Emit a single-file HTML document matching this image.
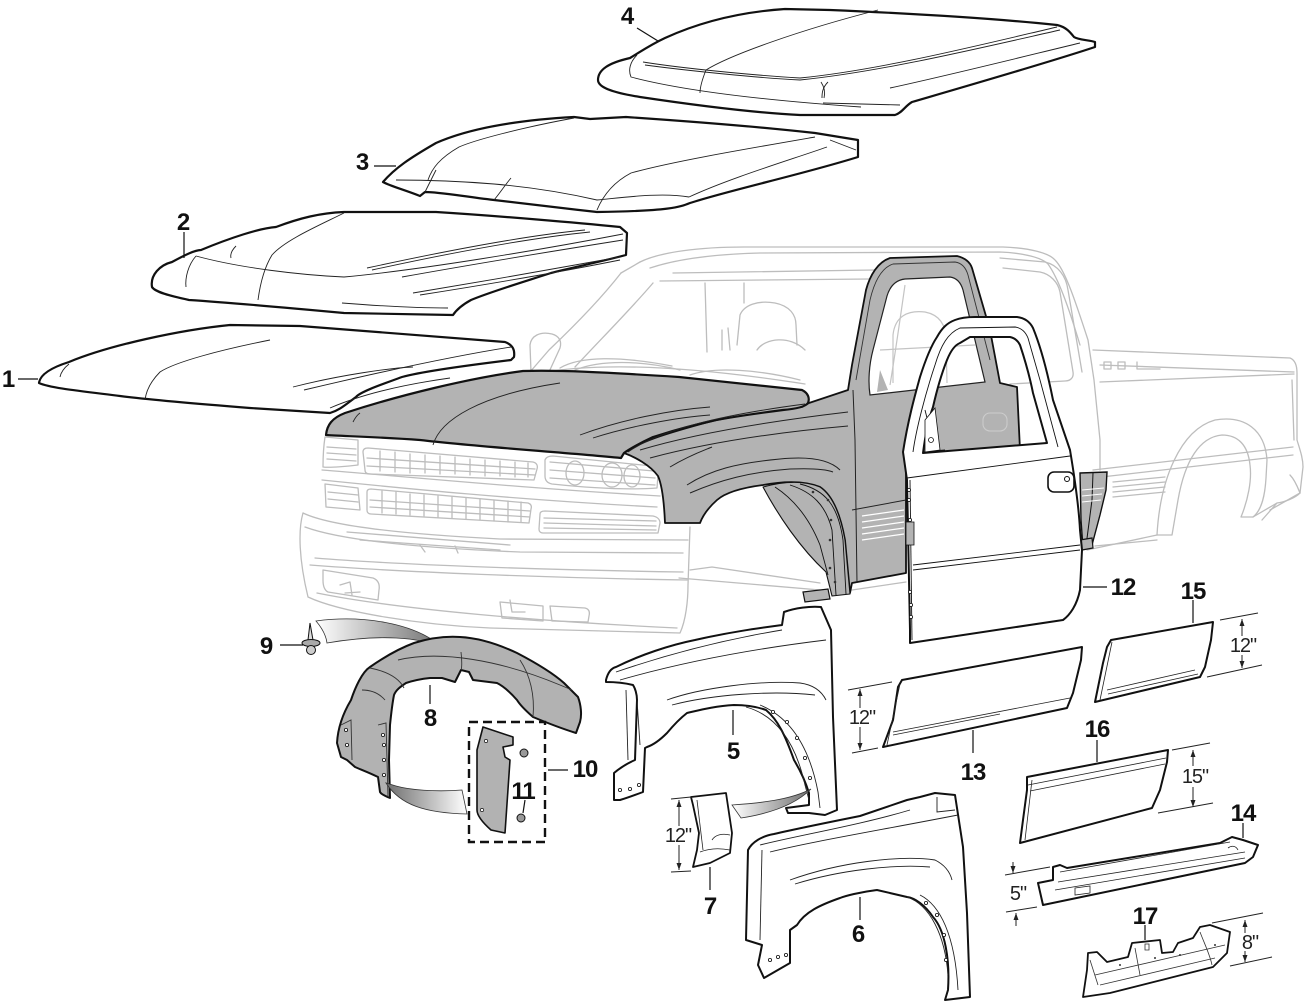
<!DOCTYPE html>
<html><head><meta charset="utf-8"><style>
html,body{margin:0;padding:0;background:#fff;}
svg{display:block;}
.lbl{font-family:"Liberation Sans",Arial,sans-serif;font-weight:bold;font-size:24px;fill:#111;text-anchor:middle;letter-spacing:-1px;}
.dim{font-family:"Liberation Sans",Arial,sans-serif;font-size:20px;fill:#222;text-anchor:middle;letter-spacing:-1px;}
</style></head><body>
<svg width="1307" height="1002" viewBox="0 0 1307 1002" xmlns="http://www.w3.org/2000/svg">
<defs>
<linearGradient id="gR" x1="0" y1="0" x2="1" y2="0"><stop offset="0" stop-color="#fff"/><stop offset="1" stop-color="#6e6e6e"/></linearGradient>
<linearGradient id="gL" x1="0" y1="0" x2="1" y2="0"><stop offset="0" stop-color="#6e6e6e"/><stop offset="1" stop-color="#fff"/></linearGradient>
<marker id="ar" markerWidth="8" markerHeight="8" refX="7" refY="4" orient="auto" markerUnits="userSpaceOnUse"><path d="M0,1.5 L7,4 L0,6.5 Z" fill="#222"/></marker>
</defs>
<rect width="1307" height="1002" fill="#fff"/>

<!-- ================= TRUCK (light gray) ================= -->
<g fill="none" stroke="#bdbdbd" stroke-width="1.3" stroke-linejoin="round" stroke-linecap="round">
 <path d="M640,262 C660,252 700,247 744,247 L1003,247 C1030,248 1049,253 1055,260 C1065,270 1075,300 1088,340 L1094,380 L1100,440 L1100,470"/>
 <path d="M650,268 C680,258 720,254 760,253 L1000,252 C1025,253 1042,258 1048,264 C1058,278 1068,305 1080,345"/>
 <path d="M621,273 C600,300 570,330 549,350 L530,372"/>
 <path d="M640,262 L621,273"/>
 <path d="M653,283 C630,310 600,340 575,367"/>
 <path d="M673,273 L874,270"/>
 <path d="M660,281 L870,279"/>
 <path d="M531,372 L530,345 C531,336 540,331 552,334 C559,336 562,341 560,348 L549,372 Z"/>
 <path d="M540,373 C600,362 690,366 805,384"/>
 <path d="M560,368 C580,356 620,356 672,366"/>
 <path d="M575,370 C600,360 640,360 680,370"/>
 <path d="M690,375 C715,366 760,370 800,380"/>
 <path d="M705,283 L707,352"/>
 <path d="M744,283 L744,303"/>
 <path d="M737,345 L740,315 C744,305 758,300 775,303 C790,306 796,315 796,325 L797,345"/>
 <path d="M757,350 C765,338 790,335 805,350"/>
 <path d="M722,330 L722,350 M728,328 L730,350"/>
 <path d="M893,383 L893,335 C895,316 908,310 925,312 C940,315 946,325 946,340 L947,383"/>
 <path d="M888,345 L960,340"/>
 <path d="M878,310 L880,390"/>
 <path d="M1003,268 L1040,272 C1050,274 1058,282 1060,292 L1073,372 C1074,378 1070,381 1065,381 L1010,384"/>
 <path d="M1000,258 L1045,262 C1058,265 1066,276 1068,290 L1082,372"/>
 <path d="M1093,350 L1290,358 C1295,360 1297,365 1297,373 L1297,440 C1300,450 1303,458 1303,467 L1300,493 C1295,498 1285,502 1277,503 L1262,520"/>
 <path d="M1100,365 L1294,372"/>
 <path d="M1100,382 L1294,374"/>
 <path d="M1104,362 L1104,369 L1111,369 L1111,362 Z M1118,362 L1118,369 L1125,369 L1125,362 Z M1137,362 L1137,369 L1160,369"/>
 <path d="M1292,380 L1294,440"/>
 <path d="M1093,470 L1293,447"/>
 <path d="M1093,478 L1293,455"/>
 <path d="M1113,482 L1165,477 M1113,487 L1165,482 M1113,492 L1165,487 M1113,497 L1165,492"/>
 <path d="M1157,535 C1160,480 1180,430 1215,420 C1245,415 1265,430 1267,460 L1266,478 C1265,495 1262,510 1253,517 L1241,517 C1248,500 1252,480 1250,465 C1248,445 1238,435 1222,435 C1200,437 1185,460 1178,500 L1172,535 Z"/>
 <path d="M1087,550 L1157,535"/>
 <path d="M1095,546 L1157,540"/>
 <path d="M1253,517 L1277,503 M1270,510 L1300,493"/>
 <path d="M1290,475 C1295,480 1298,488 1300,493"/>
 <path d="M325,437 C323,450 323,460 323,467 C330,468 350,466 358,465 L358,440 Z"/>
 <path d="M327,447 L356,449 M327,453 L356,455 M327,459 L356,461"/>
 <path d="M363,452 C363,449 365,448 368,448 L533,462 C537,463 538,466 537,469 L534,480 L370,474 C366,474 365,472 365,470 Z"/>
 <path d="M367,458 L535,469 M367,466 L535,475"/>
 <path d="M380,451 L380,471 M395,452 L395,472 M410,454 L410,473 M425,455 L425,473 M440,456 L440,474 M455,457 L455,474 M470,459 L470,475 M485,460 L485,476 M500,461 L500,476 M515,462 L515,477 M528,463 L528,477"/>
 <path d="M545,460 C546,457 549,456 553,456 L652,466 C657,467 659,470 658,475 L657,488 C630,490 590,488 552,484 C547,483 545,480 545,476 Z"/>
 <path d="M550,462 L654,471 M550,470 L655,478 M550,478 L655,485"/>
 <ellipse cx="575" cy="473" rx="9" ry="12"/>
 <ellipse cx="612" cy="475" rx="10" ry="12"/>
 <ellipse cx="632" cy="476" rx="8" ry="11"/>
 <path d="M322,470 C400,476 520,488 660,496"/>
 <path d="M322,480 C400,488 520,500 657,507"/>
 <path d="M325,484 L358,488 L360,510 L326,507 Z"/>
 <path d="M328,492 L358,495 M328,499 L358,502"/>
 <path d="M367,492 C367,490 368,489 371,489 L528,503 C531,504 532,506 531,509 L529,523 L371,514 C368,514 367,512 367,510 Z"/>
 <path d="M370,500 L530,511 M370,507 L530,517"/>
 <path d="M382,491 L382,513 M396,492 L396,514 M410,494 L410,515 M424,495 L424,516 M438,496 L438,517 M452,497 L452,518 M466,498 L466,519 M480,499 L480,520 M494,500 L494,521 M508,501 L508,522 M521,502 L521,522"/>
 <path d="M540,514 C540,512 542,511 545,511 L653,516 C658,517 660,520 660,523 L658,533 L543,533 C540,533 539,531 539,529 Z"/>
 <path d="M544,518 L656,521 M544,523 L656,526 M544,528 L656,530"/>
 <path d="M303,513 C298,530 299,560 308,597 C340,612 420,625 490,628 L680,633 C686,620 688,600 688,585 L690,527"/>
 <path d="M303,513 C330,526 400,534 500,539 L688,540"/>
 <path d="M305,527 C340,540 420,548 520,552 L683,553"/>
 <path d="M347,532 L510,545 M360,540 L500,550 M420,545 L425,552 M455,546 L458,553"/>
 <path d="M315,558 C400,565 550,570 683,572"/>
 <path d="M310,565 C400,572 550,578 687,580"/>
 <path d="M317,593 C400,610 550,622 677,628"/>
 <path d="M323,570 L373,578 C378,580 380,584 379,590 L378,600 L328,592 C324,590 323,585 323,580 Z"/>
 <path d="M340,585 L350,582 L352,595 M345,593 L360,592"/>
 <path d="M500,602 L543,606 L543,621 L502,618 Z"/>
 <path d="M550,606 L585,608 C589,609 590,612 589,616 L588,622 L552,621 Z"/>
 <path d="M510,600 L512,612 L525,612"/>
 <path d="M690,570 L712,567 L820,583"/>
 <path d="M679,578 L820,590"/>
 <path d="M852,590 L906,582"/>
</g>

<!-- ================= GRAY BODY on truck ================= -->
<path d="M624,453 C640,442 660,435 712,421 C740,415 780,410 802,407 L809,403 L848,390 L852,365 L866,290 C870,275 878,262 890,258 L957,256 C965,258 970,262 972,268 L990,330 L1000,383 L1017,387 L1020,450 L906,460 L906,573 L852,583 L850,593 L845,540 C840,512 832,495 820,487 C805,481 785,481 763,485 C740,488 725,493 717,500 C708,508 703,515 700,523 L665,523 C664,500 662,485 658,476 C650,465 635,457 624,453 Z" fill="#b3b3b3" stroke="#111" stroke-width="1.8" stroke-linejoin="round"/>
<!-- wheel well liner -->
<path d="M763,487 C778,515 800,548 826,572 L832,596 L850,594 L845,540 C840,512 832,495 820,487 C805,481 785,481 763,487 Z" fill="#b3b3b3" stroke="#111" stroke-width="1.1" stroke-linejoin="round"/>
<g fill="none" stroke="#111" stroke-width="0.9">
 <path d="M790,485 C812,492 826,505 832,530 L836,595"/>
 <path d="M800,484 C825,490 838,505 843,540 L846,594"/>
 <path d="M775,487 C795,500 810,520 820,545 L828,575"/>
</g>
<g fill="#333"><circle cx="813" cy="492" r="1.3"/><circle cx="828" cy="500" r="1.3"/><circle cx="831" cy="520" r="1.3"/><circle cx="830" cy="540" r="1.3"/><circle cx="830" cy="568" r="1.3"/><circle cx="835" cy="582" r="1.3"/></g>
<path d="M803,592 L828,589 L830,599 L805,602 Z" fill="#b3b3b3" stroke="#111" stroke-width="1.2"/>
<!-- cab opening -->
<path d="M870,395 C868,382 869,365 873,350 L887,296 C890,286 896,280 905,279 L950,277 C957,278 961,283 963,290 L985,382 Z" fill="#fff" stroke="#222" stroke-width="1.2"/>
<g fill="none" stroke="#c4c4c4" stroke-width="1.2">
 <path d="M893,383 L893,335 C895,316 908,310 925,312 C940,315 946,325 946,340 L947,383"/>
 <path d="M880,350 L975,345"/>
 <path d="M905,285 C900,320 895,355 890,385"/>
</g>
<path d="M880,370 L877,392 L888,390 Z" fill="#b3b3b3"/>
<path d="M856,380 L870,300 C874,283 881,268 893,264 L955,262 C962,263 966,268 968,275 L990,360" fill="none" stroke="#333" stroke-width="0.9"/>
<!-- fender lines on truck -->
<g fill="none" stroke="#222" stroke-width="1">
 <path d="M640,450 C700,432 780,420 848,412"/>
 <path d="M650,458 C710,442 780,432 848,426"/>
 <path d="M687,485 C710,470 737,463 780,459 C810,456 830,460 840,470"/>
 <path d="M690,493 C720,480 750,472 790,469 C815,468 828,470 833,472"/>
 <path d="M670,467 C690,455 705,450 712,447"/>
 <path d="M853,390 L855,440 L857,583"/>
 <path d="M852,510 L906,500"/>
</g>
<g stroke="#fff" stroke-width="1.3">
 <path d="M862,516 L904,510 M862,522 L904,516 M862,528 L904,522 M862,534 L904,528 M862,540 L904,534"/>
</g>
<!-- B-pillar strip -->
<path d="M1080,473 L1107,472 L1106,490 L1100,515 L1092,545 L1083,548 L1081,520 Z" fill="#b3b3b3" stroke="#111" stroke-width="1.4"/>
<path d="M1093,473 L1092,500 L1086,546" fill="none" stroke="#111" stroke-width="1"/>
<path d="M1082,490 L1104,488 M1082,496 L1102,494 M1082,502 L1101,500" stroke="#fff" stroke-width="1"/>
<path d="M1080,540 L1092,538 L1093,548 L1082,550 Z" fill="#b3b3b3" stroke="#111" stroke-width="1.2"/>

<!-- gray hood on truck -->
<path d="M326,435 C327,425 332,418 345,413 C400,395 470,378 523,371 C560,370 600,372 679,377 L802,390 C808,393 810,398 808,403 C805,407 795,409 783,410 C760,413 730,417 712,421 C680,428 660,435 653,437 C640,443 628,450 624,453 L621,458 C560,452 480,447 420,440 C380,437 340,436 326,435 Z" fill="#b3b3b3" stroke="#111" stroke-width="2.2" stroke-linejoin="round"/>
<g fill="none" stroke="#222" stroke-width="0.9">
 <path d="M353,422 C355,418 357,415 360,413"/>
 <path d="M433,445 C440,420 480,395 560,383"/>
 <path d="M580,435 C620,420 670,410 710,407"/>
 <path d="M593,438 C630,426 680,417 710,415"/>
 <path d="M628,452 C660,430 720,415 805,404"/>
</g>

<!-- DOOR 12 -->
<path fill-rule="evenodd" d="M907,480 L903,452 C908,420 915,395 920,377 C927,355 933,343 937,337 C942,328 947,323 955,320 C960,318 965,317 975,317 L1017,317 C1025,318 1030,322 1033,328 C1040,345 1047,370 1053,400 L1070,450 C1075,480 1079,510 1080,530 L1082,550 L1080,590 C1077,605 1070,615 1063,620 L910,643 L910,630 Z M923,453 C926,430 930,415 933,407 C938,385 943,370 947,360 C951,350 955,345 960,343 L970,337 L1010,337 C1015,338 1018,341 1020,345 C1025,360 1030,378 1033,393 L1047,443 Z" fill="#fff" stroke="#111" stroke-width="2" stroke-linejoin="round"/>
<g fill="none" stroke="#111" stroke-width="0.9">
 <path d="M913,452 C916,430 925,395 935,365 C941,345 948,333 960,328 L1015,327 C1022,328 1026,333 1028,338 L1040,380 L1058,447"/>
 <path d="M907,478 L1070,456"/>
 <path d="M913,565 L1080,545"/>
 <path d="M913,570 L1080,550"/>
 <path d="M910,480 L912,640"/>
 <path d="M925,410 L935,450 M923,452 L945,450"/>
</g>
<path d="M925,420 L935,408 L940,450 L925,452 Z" fill="#fff" stroke="#111" stroke-width="0.8"/>
<circle cx="931" cy="440" r="2.5" fill="none" stroke="#111" stroke-width="0.8"/>
<g fill="none" stroke="#ccc" stroke-width="1.1"><rect x="983" y="413" width="24" height="18" rx="7"/></g>
<rect x="1048" y="472" width="26" height="20" rx="6" fill="#fff" stroke="#111" stroke-width="1.6"/>
<circle cx="1067" cy="479" r="2.5" fill="none" stroke="#111" stroke-width="1"/>
<g fill="#fff" stroke="#111" stroke-width="0.8"><circle cx="909" cy="490" r="1.6"/><circle cx="909" cy="500" r="1.6"/><circle cx="910" cy="520" r="1.6"/><circle cx="910" cy="592" r="1.6"/><circle cx="911" cy="605" r="1.6"/><circle cx="911" cy="617" r="1.6"/></g>
<path d="M906,522 L914,522 L914,545 L906,545 Z" fill="#b3b3b3" stroke="#111" stroke-width="0.8"/>

<!-- ================= HOODS ================= -->
<path d="M598,80 C598,70 608,63 630,58 C640,52 650,45 665,38 C700,22 740,12 785,9 L830,10 C900,13 990,18 1057,25 C1066,27 1070,32 1074,37 C1078,40 1090,40 1095,42 L1095,47 C1050,62 960,88 912,102 C905,106 902,113 895,115 L800,115 C760,113 700,106 640,97 C615,93 598,88 598,80 Z" fill="#fff" stroke="#111" stroke-width="2.2" stroke-linejoin="round"/>
<g fill="none" stroke="#222" stroke-width="0.9">
 <path d="M637,55 C630,62 628,70 631,77 C680,90 760,100 861,107"/>
 <path d="M643,62 C680,68 750,75 800,78 C880,70 980,45 1057,27"/>
 <path d="M645,65 C690,71 760,78 800,80 C880,72 980,48 1060,30"/>
 <path d="M890,88 C950,75 1030,55 1080,43"/>
 <path d="M878,10 C800,30 730,55 706,70 C702,80 700,88 700,93"/>
 <path d="M821,82 C825,88 825,94 824,98"/>
 <path d="M828,82 C822,88 822,94 822,98"/>
 <path d="M823,103 L900,105"/>
</g>
<path d="M383,182 C395,168 410,158 436,143 C470,128 520,120 574,117 L590,119 L626,117 C700,122 770,128 815,133 L858,140 L858,157 C800,175 730,190 690,203 C680,207 670,211 597,212 C560,208 520,203 494,200 C460,196 440,192 425,192 L420,196 C405,190 390,186 383,182 Z" fill="#fff" stroke="#111" stroke-width="2.2" stroke-linejoin="round"/>
<g fill="none" stroke="#222" stroke-width="0.9">
 <path d="M396,180 C430,180 470,182 494,184 C540,188 575,195 597,200 C620,198 660,192 689,197"/>
 <path d="M511,178 C505,185 500,193 494,200"/>
 <path d="M436,170 C432,178 428,186 425,192"/>
 <path d="M574,118 C520,128 475,140 459,147 C440,158 432,168 428,180"/>
 <path d="M815,137 C740,150 670,162 631,173 C612,183 602,198 597,210"/>
 <path d="M689,197 C730,178 790,160 827,147"/>
 <path d="M830,140 L856,150"/>
</g>
<path d="M152,287 C150,275 160,265 172,262 C185,255 195,250 201,250 C230,238 260,228 276,227 C300,218 320,213 344,212 L436,212 C500,216 580,223 620,227 L627,233 L626,255 C600,262 570,268 551,273 C520,283 490,292 471,300 C460,306 455,312 453,315 L344,313 C290,308 220,302 189,300 C170,296 155,292 152,287 Z" fill="#fff" stroke="#111" stroke-width="2.2" stroke-linejoin="round"/>
<g fill="none" stroke="#222" stroke-width="0.9">
 <path d="M196,256 C188,265 185,278 186,287"/>
 <path d="M196,256 C240,268 300,275 344,277 C420,270 540,250 623,234"/>
 <path d="M344,213 C320,225 285,240 272,255 C264,268 260,285 258,300"/>
 <path d="M236,246 C232,250 230,254 231,258"/>
 <path d="M367,268 C450,250 530,235 585,230"/>
 <path d="M372,270 C450,253 530,238 590,232"/>
 <path d="M402,277 C480,263 560,250 623,240"/>
 <path d="M413,293 C480,282 560,268 620,257"/>
 <path d="M420,295 C490,284 560,272 620,260"/>
 <path d="M342,303 C380,306 420,308 448,308"/>
</g>
<path d="M39,383 C40,375 50,368 69,362 C110,345 180,330 230,325 L300,326 C380,332 450,338 505,342 C513,345 515,350 514,357 L511,360 C470,365 420,372 402,377 C380,385 360,392 356,397 C345,405 340,410 330,413 L250,408 C200,404 150,400 120,396 C80,391 50,388 39,383 Z" fill="#fff" stroke="#111" stroke-width="2.2" stroke-linejoin="round"/>
<g fill="none" stroke="#222" stroke-width="0.9">
 <path d="M69,364 C64,368 61,372 60,377"/>
 <path d="M270,340 C220,350 175,362 160,372 C150,382 146,392 145,400"/>
 <path d="M304,390 C380,372 460,355 511,347"/>
 <path d="M293,387 C340,375 390,368 413,367"/>
 <path d="M330,408 C360,395 400,385 450,378"/>
</g>

<!-- ================= LOWER-LEFT PARTS ================= -->
<path d="M316,621 C360,615 415,622 443,648 C420,637 380,634 327,643 C326,635 322,628 316,621 Z" fill="url(#gR)" stroke="#333" stroke-width="0.8"/>
<path d="M308,640 L310,623 L313,640 Z" fill="#ddd" stroke="#111" stroke-width="1"/>
<ellipse cx="311" cy="643" rx="9" ry="3.5" fill="#aaa" stroke="#111" stroke-width="1"/>
<circle cx="311" cy="650" r="4.5" fill="#ccc" stroke="#111" stroke-width="1"/>
<path d="M337,743 C338,725 345,710 351,700 C355,688 362,672 370,667 C380,660 395,650 414,643 C430,638 445,636 460,637 C480,638 500,645 517,653 C540,665 555,675 564,683 L578,697 C581,705 582,715 580,722 L576,733 C560,728 545,722 533,717 C525,710 520,705 517,700 C510,692 503,686 497,683 L473,680 L469,672 L461,670 L455,682 L442,678 L430,678 C420,679 412,681 406,683 C400,687 396,690 394,695 C392,705 391,715 390,725 L389,760 L390,798 C385,796 381,794 380,792 L378,777 C370,773 362,770 355,767 L347,760 L341,757 Z" fill="#b2b2b2" stroke="#111" stroke-width="2" stroke-linejoin="round"/>
<g fill="none" stroke="#333" stroke-width="0.9">
 <path d="M370,668 C390,672 400,680 404,688"/>
 <path d="M398,660 C440,650 500,660 560,685 L572,690"/>
 <path d="M461,652 C462,660 462,668 461,670"/>
 <path d="M520,660 C530,675 535,695 533,717"/>
 <path d="M378,725 L386,723 L388,797"/>
 <path d="M341,725 L351,720 L352,760"/>
 <path d="M362,690 C370,690 378,692 385,700"/>
</g>
<g fill="#fff" stroke="#111" stroke-width="0.8"><circle cx="383" cy="735" r="1.6"/><circle cx="384" cy="745" r="1.6"/><circle cx="384" cy="760" r="1.6"/><circle cx="384" cy="775" r="1.6"/><circle cx="346" cy="730" r="1.6"/><circle cx="347" cy="745" r="1.6"/></g>
<path d="M386,783 C400,805 425,813 467,814 L462,790 C435,792 410,790 396,786 Z" fill="url(#gL)" stroke="#333" stroke-width="0.8"/>
<rect x="469" y="722" width="76" height="120" fill="none" stroke="#111" stroke-width="2.4" stroke-dasharray="9,5"/>
<path d="M483,727 L513,737 L513,745 L503,747 L505,757 L510,760 L505,833 L491,830 C482,822 477,815 477,810 L477,750 Z" fill="#b2b2b2" stroke="#111" stroke-width="1.6" stroke-linejoin="round"/>
<circle cx="486" cy="741" r="1.6" fill="#fff" stroke="#111" stroke-width="0.7"/>
<circle cx="482" cy="810" r="1.6" fill="#fff" stroke="#111" stroke-width="0.7"/>
<circle cx="524" cy="753" r="4" fill="#999" stroke="#111" stroke-width="1"/>
<circle cx="521" cy="818" r="4" fill="#999" stroke="#111" stroke-width="1"/>

<!-- Fender 5 -->
<path d="M606,680 C608,672 612,668 616,667 C640,655 670,645 695,640 C730,632 760,628 782,625 L784,612 C795,608 810,606 821,607 L831,630 L833,717 L837,810 L825,815 L809,813 L788,813 L786,808 L809,805 L809,793 C805,780 800,770 794,760 C785,735 778,720 766,710 C755,706 745,705 734,705 C715,706 700,710 687,713 C678,720 672,727 667,733 C660,740 653,745 647,747 L645,748 L643,792 C635,795 627,798 620,800 L614,800 L614,773 C620,768 628,763 635,760 L637,700 C637,694 635,688 633,685 C625,683 615,682 606,682 Z" fill="#fff" stroke="#111" stroke-width="2" stroke-linejoin="round"/>
<g fill="none" stroke="#222" stroke-width="0.9">
 <path d="M616,672 C680,650 740,637 782,630"/>
 <path d="M620,680 C690,660 760,648 826,640"/>
 <path d="M667,700 C700,688 760,680 800,683 C815,685 822,692 826,700"/>
 <path d="M672,705 C710,695 770,690 815,695"/>
 <path d="M746,707 C775,715 795,740 805,785 L809,800"/>
 <path d="M760,705 C792,718 810,750 818,792 L820,808"/>
 <path d="M637,700 L640,745"/>
 <path d="M626,690 L628,760"/>
</g>
<g fill="#fff" stroke="#111" stroke-width="0.8"><circle cx="773" cy="712" r="1.6"/><circle cx="787" cy="722" r="1.6"/><circle cx="797" cy="738" r="1.6"/><circle cx="805" cy="758" r="1.6"/><circle cx="810" cy="778" r="1.6"/><circle cx="620" cy="790" r="1.6"/><circle cx="630" cy="789" r="1.6"/><circle cx="639" cy="785" r="1.6"/></g>
<path d="M732,805 C760,803 790,800 811,789 C800,800 780,812 741,818 Z" fill="url(#gR)" stroke="#333" stroke-width="0.8"/>
<path d="M691,797 L726,793 L732,833 L730,853 L710,863 L693,867 L697,850 L699,833 L693,805 Z" fill="#fff" stroke="#111" stroke-width="1.8" stroke-linejoin="round"/>
<g fill="none" stroke="#222" stroke-width="0.8"><path d="M697,800 L703,850"/><path d="M712,840 C715,835 722,833 730,835"/><path d="M700,852 C710,848 720,848 730,850"/></g>

<!-- Fender 6 -->
<path d="M748,850 C752,842 762,836 774,834 C800,828 830,822 860,816 L907,800 L920,797 L935,793 L955,795 L963,847 L967,913 L970,997 L945,1000 L948,990 C950,960 945,930 933,917 C925,905 915,898 907,897 L877,890 C860,892 845,896 840,898 C820,905 805,912 797,925 L790,930 L790,963 L764,978 L758,965 L762,945 L746,940 Z" fill="#fff" stroke="#111" stroke-width="2" stroke-linejoin="round"/>
<g fill="none" stroke="#222" stroke-width="0.9">
 <path d="M760,845 C800,835 860,825 910,810"/>
 <path d="M770,852 C810,842 870,832 958,815"/>
 <path d="M790,880 C840,862 900,855 935,860 C945,865 950,872 952,880"/>
 <path d="M795,884 C840,870 895,864 930,867"/>
 <path d="M907,897 C930,905 945,935 948,975"/>
 <path d="M920,895 C940,905 955,935 958,990"/>
 <path d="M937,797 L937,812 L955,810"/>
 <path d="M762,850 L760,940"/>
</g>
<g fill="#fff" stroke="#111" stroke-width="0.8"><circle cx="926" cy="903" r="1.6"/><circle cx="937" cy="915" r="1.6"/><circle cx="944" cy="935" r="1.6"/><circle cx="946" cy="960" r="1.6"/><circle cx="770" cy="960" r="1.6"/><circle cx="778" cy="957" r="1.6"/><circle cx="786" cy="955" r="1.6"/></g>

<!-- ================= RIGHT PANELS ================= -->
<path d="M1111,640 L1213,622 L1211,640 L1205,667 L1200,677 L1095,702 L1103,663 L1107,647 Z" fill="#fff" stroke="#111" stroke-width="2" stroke-linejoin="round"/>
<path d="M1112,642 L1100,700 M1107,690 L1195,670 M1108,694 L1198,674" fill="none" stroke="#222" stroke-width="0.8"/>
<path d="M902,680 L1082,647 L1081,660 L1073,693 L1067,708 L883,747 L893,720 L898,687 Z" fill="#fff" stroke="#111" stroke-width="2" stroke-linejoin="round"/>
<path d="M893,732 L1070,698 M893,735 L1000,714 M900,684 L887,745" fill="none" stroke="#222" stroke-width="0.8"/>
<path d="M1027,777 L1168,750 L1167,762 L1160,790 L1152,808 L1020,843 L1023,820 L1027,790 Z" fill="#fff" stroke="#111" stroke-width="2" stroke-linejoin="round"/>
<path d="M1028,785 L1166,758 M1030,791 L1165,764 M1032,780 L1025,840" fill="none" stroke="#222" stroke-width="0.8"/>
<path d="M1038,883 L1053,880 L1053,867 L1060,865 L1067,868 L1220,843 L1232,837 L1243,840 L1258,845 L1253,857 L1245,863 L1043,905 Z" fill="#fff" stroke="#111" stroke-width="2" stroke-linejoin="round"/>
<g fill="none" stroke="#222" stroke-width="0.8"><path d="M1060,872 L1230,842"/><path d="M1058,882 L1245,852"/><path d="M1055,890 L1245,858"/><path d="M1075,888 L1090,886 L1090,893 L1075,895 Z"/><path d="M1228,848 C1232,845 1236,846 1238,850"/></g>
<path d="M1088,953 L1097,952 L1107,962 L1128,957 L1132,943 L1160,940 L1162,953 L1173,952 L1178,943 L1193,938 L1200,927 L1210,925 L1230,932 L1227,953 L1213,967 L1110,993 L1083,997 L1087,970 Z" fill="#fff" stroke="#111" stroke-width="1.8" stroke-linejoin="round"/>
<g fill="none" stroke="#333" stroke-width="0.8"><path d="M1095,975 L1225,945"/><path d="M1100,985 L1215,958"/><path d="M1135,948 L1140,975"/><path d="M1200,932 C1205,945 1210,955 1212,965"/><path d="M1145,944 L1149,944 L1149,950 L1145,950 Z"/><path d="M1090,960 L1098,985"/></g>
<g fill="#333"><circle cx="1120" cy="965" r="1"/><circle cx="1155" cy="958" r="1"/><circle cx="1180" cy="955" r="1"/><circle cx="1215" cy="945" r="1"/></g>

<!-- ================= DIMENSIONS ================= -->
<g stroke="#222" stroke-width="1" fill="none">
 <path d="M1220,620 L1258,613 M1207,677 L1262,665"/>
 <path d="M1242,636 L1242,619" marker-end="url(#ar)"/>
 <path d="M1242,655 L1242,668" marker-end="url(#ar)"/>
 <path d="M848,690 L892,682 M852,753 L878,748"/>
 <path d="M860,708 L860,689" marker-end="url(#ar)"/>
 <path d="M860,727 L860,750" marker-end="url(#ar)"/>
 <path d="M1172,750 L1210,743 M1158,813 L1213,803"/>
 <path d="M1193,766 L1193,750" marker-end="url(#ar)"/>
 <path d="M1193,787 L1193,807" marker-end="url(#ar)"/>
 <path d="M1005,875 L1050,867 M1006,912 L1037,907"/>
 <path d="M1013,862 L1013,873" marker-end="url(#ar)"/>
 <path d="M1016,926 L1016,913" marker-end="url(#ar)"/>
 <path d="M1212,923 L1263,913 M1230,966 L1272,957"/>
 <path d="M1245,933 L1245,920" marker-end="url(#ar)"/>
 <path d="M1245,951 L1245,962" marker-end="url(#ar)"/>
 <path d="M671,799 L691,797 M671,872 L691,871"/>
 <path d="M679,826 L679,800" marker-end="url(#ar)"/>
 <path d="M679,845 L679,870" marker-end="url(#ar)"/>
</g>
<text class="dim" x="1243" y="652">12&quot;</text>
<text class="dim" x="862" y="724">12&quot;</text>
<text class="dim" x="1195" y="783">15&quot;</text>
<text class="dim" x="1018" y="900">5&quot;</text>
<text class="dim" x="1250" y="949">8&quot;</text>
<text class="dim" x="678" y="842">12&quot;</text>

<!-- ================= LEADERS ================= -->
<g stroke="#111" stroke-width="1.2" fill="none">
 <path d="M18,379 L38,379"/>
 <path d="M184,232 L184,258"/>
 <path d="M374,166 L396,166"/>
 <path d="M637,28 L658,41"/>
 <path d="M733,710 L733,735"/>
 <path d="M860,897 L860,920"/>
 <path d="M710,867 L710,890"/>
 <path d="M430,685 L430,704"/>
 <path d="M280,645 L303,645"/>
 <path d="M548,770 L568,770"/>
 <path d="M525,800 L523,813"/>
 <path d="M1083,587 L1107,587"/>
 <path d="M973,730 L973,753"/>
 <path d="M1243,823 L1243,838"/>
 <path d="M1193,600 L1193,623"/>
 <path d="M1097,740 L1097,762"/>
 <path d="M1145,925 L1145,940"/>
</g>

<!-- ================= LABELS ================= -->
<text class="lbl" x="8" y="387">1</text>
<text class="lbl" x="183" y="230">2</text>
<text class="lbl" x="362" y="170">3</text>
<text class="lbl" x="627" y="24">4</text>
<text class="lbl" x="733" y="759">5</text>
<text class="lbl" x="858" y="942">6</text>
<text class="lbl" x="710" y="914">7</text>
<text class="lbl" x="430" y="726">8</text>
<text class="lbl" x="266" y="654">9</text>
<text class="lbl" x="585" y="777">10</text>
<text class="lbl" x="523" y="799">11</text>
<text class="lbl" x="1123" y="595">12</text>
<text class="lbl" x="973" y="780">13</text>
<text class="lbl" x="1243" y="821">14</text>
<text class="lbl" x="1193" y="599">15</text>
<text class="lbl" x="1097" y="737">16</text>
<text class="lbl" x="1145" y="924">17</text>
</svg>
</body></html>
